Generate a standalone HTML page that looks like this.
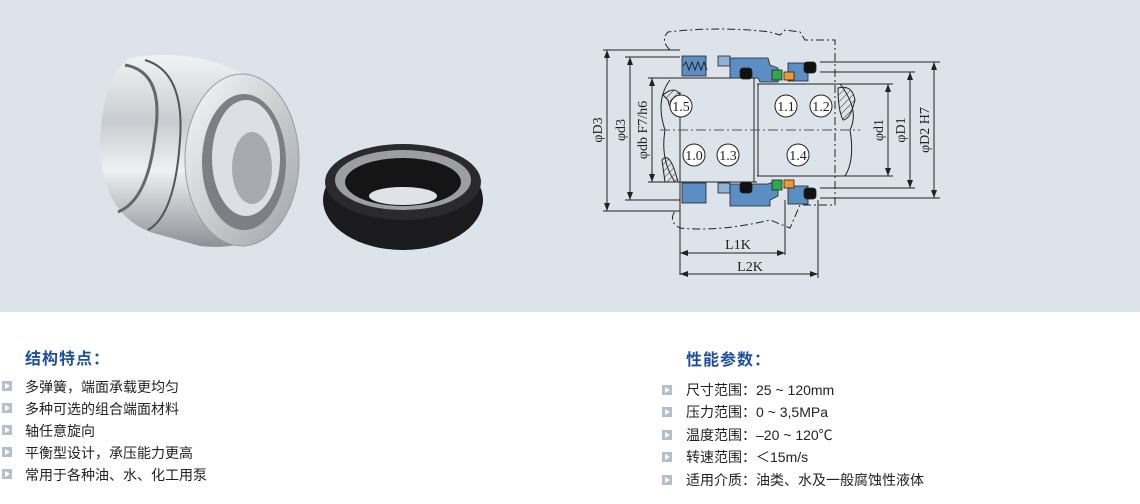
<!DOCTYPE html>
<html><head><meta charset="utf-8"><style>
body{margin:0;width:1140px;height:504px;background:#fff;position:relative;overflow:hidden;font-family:"Liberation Sans","Noto Sans CJK SC",sans-serif}
.top{position:absolute;left:0;top:0;width:1140px;height:312px;background:#dde3ea}
.h{position:absolute;font-size:16px;font-weight:bold;color:#1d4f9c;letter-spacing:1px}
.li{position:absolute;font-size:14px;color:#222;line-height:16px;white-space:nowrap}
.b{position:absolute;width:10px;height:10px;background:#b3bfca}
.b:after{content:"";position:absolute;left:3px;top:2px;border-left:5px solid #fff;border-top:3px solid transparent;border-bottom:3px solid transparent}
</style></head><body>
<div class="top">
<svg width="1140" height="312" viewBox="0 0 1140 312" xmlns="http://www.w3.org/2000/svg">
<defs>
<linearGradient id="m" x1="0" y1="0" x2="0" y2="1"><stop offset="0" stop-color="#f2f3f4"/><stop offset=".35" stop-color="#c9ccd0"/><stop offset=".6" stop-color="#eef0f2"/><stop offset="1" stop-color="#8d9197"/></linearGradient>
<linearGradient id="m2" x1="0" y1="0" x2="1" y2="1"><stop offset="0" stop-color="#fafafa"/><stop offset="1" stop-color="#9ea2a7"/></linearGradient>
<pattern id="hat" width="5" height="5" patternUnits="userSpaceOnUse" patternTransform="rotate(45)"><line x1="0" y1="0" x2="0" y2="5" stroke="#333" stroke-width="1"/></pattern>
</defs>
<!-- metal seal -->
<path d="M130 58 Q190 48 240 72 L275 105 Q305 160 280 218 Q255 252 200 246 L150 232 Q100 212 100 140 Q103 75 130 58Z" fill="url(#m)"/>
<path d="M125 65 Q165 72 155 135 Q148 200 118 212" stroke="#666" stroke-width="3" fill="none"/>
<path d="M145 60 Q185 72 180 140 Q175 215 148 230" stroke="#555" stroke-width="2" fill="none"/>
<ellipse cx="242" cy="160" rx="57" ry="86" fill="url(#m2)" stroke="#9a9ea4"/>
<ellipse cx="244" cy="162" rx="42" ry="68" fill="#7c8085"/>
<ellipse cx="246" cy="158" rx="34" ry="58" fill="#dcdfe3"/>
<ellipse cx="252" cy="168" rx="20" ry="36" fill="#a7abb0"/>
<!-- black ring -->
<ellipse cx="403" cy="200" rx="80" ry="50" fill="#1b1b1d"/>
<ellipse cx="403" cy="182" rx="78" ry="38" fill="#2a2a2c"/>
<ellipse cx="403" cy="180" rx="68" ry="30" fill="#9c9ea2"/>
<ellipse cx="403" cy="182" rx="58" ry="24" fill="#151516"/>
<ellipse cx="403" cy="196" rx="34" ry="9" fill="#dfe2e6"/>
<!-- drawing -->
<g stroke="#222" fill="none" stroke-width="1">
<line x1="603" y1="50" x2="680" y2="50"/><line x1="603" y1="211" x2="680" y2="211"/>
<line x1="607" y1="50" x2="607" y2="211"/>
<line x1="625" y1="57" x2="680" y2="57"/><line x1="625" y1="200" x2="680" y2="200"/>
<line x1="630" y1="57" x2="630" y2="200"/>
<line x1="648" y1="78" x2="757" y2="78"/><line x1="648" y1="182" x2="757" y2="182"/>
<line x1="652" y1="78" x2="652" y2="182"/>
<line x1="757" y1="84" x2="893" y2="84"/><line x1="757" y1="176" x2="893" y2="176"/>
<line x1="888" y1="84" x2="888" y2="176"/>
<line x1="820" y1="72" x2="915" y2="72"/><line x1="820" y1="188" x2="915" y2="188"/>
<line x1="910" y1="72" x2="910" y2="188"/>
<line x1="820" y1="62" x2="940" y2="62"/><line x1="820" y1="198" x2="940" y2="198"/>
<line x1="934" y1="62" x2="934" y2="198"/>
<path d="M670 80 Q655 100 665 130 Q660 160 675 182"/>
<path d="M840 84 Q860 110 850 130 Q855 160 845 176"/>
<line x1="754" y1="78" x2="754" y2="182"/><line x1="758" y1="84" x2="758" y2="176"/>
<path d="M670 50 Q660 40 668 32 Q720 26 770 32 L780 35 L785 30 L800 32 L805 40 L835 40 L835 205 L800 205 L790 228 L770 220 Q720 232 680 228 Q668 222 675 211" stroke-dasharray="8 3 2 3"/>
<line x1="680" y1="92" x2="680" y2="275"/><line x1="785" y1="200" x2="785" y2="255"/><line x1="818" y1="200" x2="818" y2="278"/>
<line x1="680" y1="253" x2="785" y2="253"/><line x1="680" y1="274" x2="818" y2="274"/>
<line x1="660" y1="130" x2="860" y2="130" stroke-dasharray="10 3 2 3" stroke="#555"/>
</g>
<g fill="#222"><path d="M607 50l-3 8h6z"/><path d="M607 211l-3-8h6z"/><path d="M630 57l-3 8h6z"/><path d="M630 200l-3-8h6z"/><path d="M652 78l-3 8h6z"/><path d="M652 182l-3-8h6z"/><path d="M888 84l-3 8h6z"/><path d="M888 176l-3-8h6z"/><path d="M910 72l-3 8h6z"/><path d="M910 188l-3-8h6z"/><path d="M934 62l-3 8h6z"/><path d="M934 198l-3-8h6z"/>
<path d="M680 253l8-3v6z"/><path d="M785 253l-8-3v6z"/><path d="M680 274l8-3v6z"/><path d="M818 274l-8-3v6z"/></g>
<path d="M663 95 Q675 85 680 95 Q672 120 668 100Z" fill="url(#hat)" stroke="#222"/>
<path d="M662 160 Q670 150 678 182 L665 182Z" fill="url(#hat)" stroke="#222"/>
<path d="M838 88 Q852 84 855 100 Q850 120 843 120 Q838 110 838 88Z" fill="url(#hat)" stroke="#222"/>
<g stroke="#222" stroke-width=".8">
<rect x="682" y="56" width="24" height="20" fill="#5b8fc4"/>
<rect x="718" y="56" width="12" height="10" fill="#8fb3d6"/>
<path d="M730 58 L768 58 L770 65 L778 68 L778 82 L760 82 L758 78 L730 78Z" fill="#5b8fc4"/>
<rect x="788" y="63" width="20" height="18" fill="#5b8fc4"/>
<rect x="772" y="70" width="10" height="10" fill="#2fa84a"/><rect x="784" y="72" width="10" height="8" fill="#f0992e"/>
<rect x="740" y="68" width="12" height="11" rx="3" fill="#111"/><rect x="804" y="62" width="12" height="11" rx="3" fill="#111"/>
<rect x="682" y="183" width="24" height="20" fill="#5b8fc4"/>
<rect x="718" y="183" width="12" height="10" fill="#8fb3d6"/>
<path d="M730 184 L768 184 L778 180 L778 196 L770 200 L770 206 L730 206Z" fill="#5b8fc4"/>
<rect x="788" y="186" width="20" height="18" fill="#5b8fc4"/>
<rect x="772" y="180" width="10" height="10" fill="#2fa84a"/><rect x="784" y="180" width="10" height="8" fill="#f0992e"/>
<rect x="740" y="182" width="12" height="11" rx="3" fill="#111"/><rect x="804" y="188" width="12" height="11" rx="3" fill="#111"/>
</g>
<path d="M683 66 l3 -4 3 8 3 -8 3 8 3 -8 3 8 3-8 3 8" stroke="#222" fill="none"/>
<g fill="#fff" stroke="#222"><circle cx="681" cy="106" r="11"/><circle cx="786" cy="106" r="11"/><circle cx="821" cy="106" r="11"/><circle cx="694" cy="155" r="11"/><circle cx="728" cy="155" r="11"/><circle cx="798" cy="155" r="11"/></g>
<g font-family="Liberation Serif,serif" font-size="14" fill="#222" text-anchor="middle">
<text x="681" y="111">1.5</text><text x="786" y="111">1.1</text><text x="821" y="111">1.2</text><text x="694" y="160">1.0</text><text x="728" y="160">1.3</text><text x="798" y="160">1.4</text>
<text x="738" y="249">L1K</text><text x="750" y="271">L2K</text>
<text transform="translate(602 130) rotate(-90)">φD3</text>
<text transform="translate(625 130) rotate(-90)">φd3</text>
<text transform="translate(647 130) rotate(-90)">φdb F7/h6</text>
<text transform="translate(883 130) rotate(-90)">φd1</text>
<text transform="translate(905 130) rotate(-90)">φD1</text>
<text transform="translate(929 130) rotate(-90)">φD2 H7</text>
</g>
</svg>
</div>
<div class="h" style="left:25px;top:345px">结构特点：</div>
<div class="b" style="left:2px;top:381px"></div><div class="li" style="left:25px;top:379px">多弹簧，端面承载更均匀</div>
<div class="b" style="left:2px;top:403px"></div><div class="li" style="left:25px;top:401px">多种可选的组合端面材料</div>
<div class="b" style="left:2px;top:425px"></div><div class="li" style="left:25px;top:423px">轴任意旋向</div>
<div class="b" style="left:2px;top:447px"></div><div class="li" style="left:25px;top:445px">平衡型设计，承压能力更高</div>
<div class="b" style="left:2px;top:469px"></div><div class="li" style="left:25px;top:467px">常用于各种油、水、化工用泵</div>
<div class="h" style="left:686px;top:346px">性能参数：</div>
<div class="b" style="left:662px;top:385px"></div><div class="li" style="left:686px;top:382px">尺寸范围：25 ~ 120mm</div>
<div class="b" style="left:662px;top:407px"></div><div class="li" style="left:686px;top:404px">压力范围：0 ~ 3,5MPa</div>
<div class="b" style="left:662px;top:430px"></div><div class="li" style="left:686px;top:427px">温度范围：–20 ~ 120℃</div>
<div class="b" style="left:662px;top:452px"></div><div class="li" style="left:686px;top:449px">转速范围：＜15m/s</div>
<div class="b" style="left:662px;top:475px"></div><div class="li" style="left:686px;top:472px">适用介质：油类、水及一般腐蚀性液体</div>
</body></html>
